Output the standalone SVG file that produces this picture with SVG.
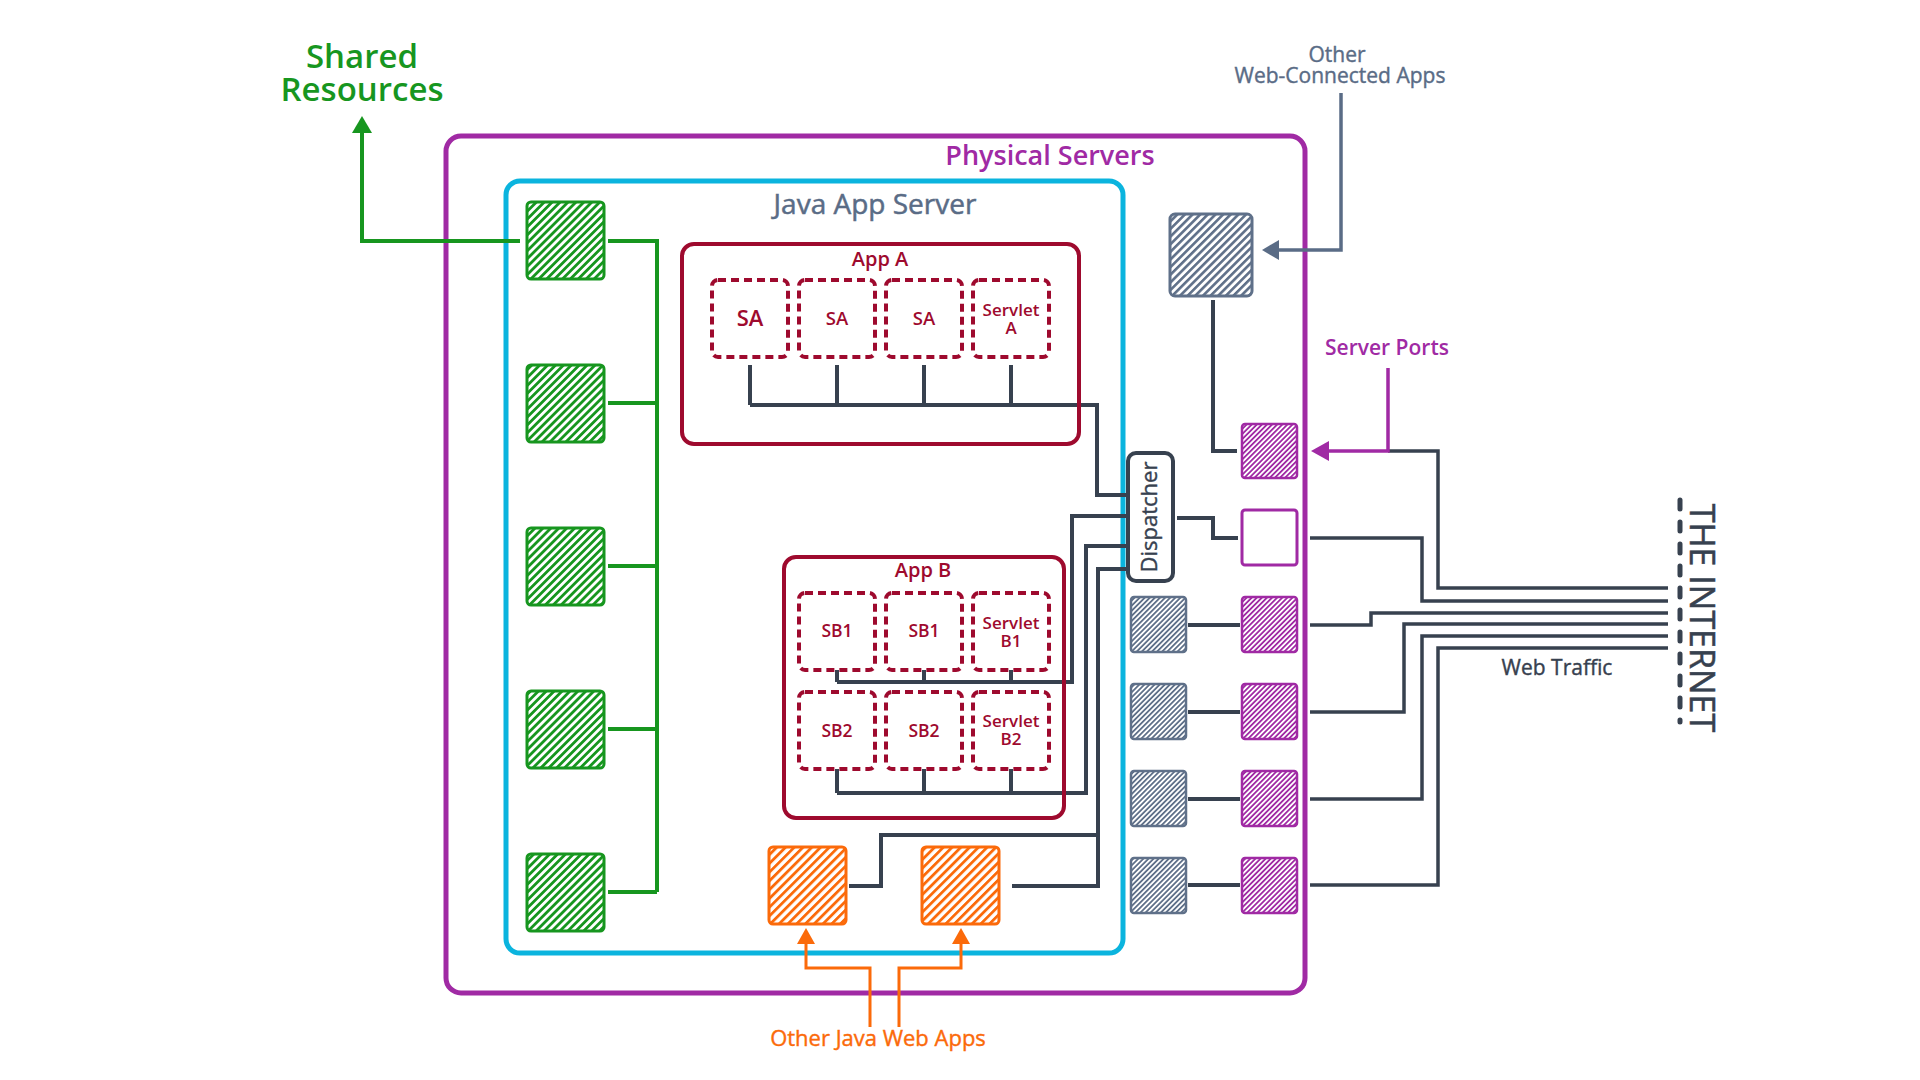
<svg xmlns="http://www.w3.org/2000/svg" width="1920" height="1080" viewBox="0 0 1920 1080">
<style>
text{font-family:"Open Sans","Liberation Sans",sans-serif;text-anchor:middle}
.b{font-weight:600}
.dark{fill:none;stroke:#37414f;stroke-width:4}
.thin{fill:none;stroke:#37414f;stroke-width:3.5}
.grn{fill:none;stroke:#17961f;stroke-width:4}
.red{fill:#9e0a2e;font-weight:600}
.dash{fill:#fff;stroke:#9e0a2e;stroke-width:4;stroke-dasharray:8 5}
.gsq{fill:url(#hG);stroke:#17961f;stroke-width:3}
.osq{fill:url(#hO);stroke:#fb6a0a;stroke-width:3}
.ssq{fill:url(#hS);stroke:#5f7089;stroke-width:2.5}
.psq{fill:url(#hP);stroke:#a02aa4;stroke-width:2.5}
</style>
<defs>
<pattern id="hG" patternUnits="userSpaceOnUse" width="5.6" height="10" patternTransform="rotate(45)"><rect width="5.6" height="10" fill="#fff"/><rect width="2.8" height="10" fill="#17961f"/></pattern>
<pattern id="hO" patternUnits="userSpaceOnUse" width="6.2" height="10" patternTransform="rotate(45)"><rect width="6.2" height="10" fill="#fff"/><rect width="2.8" height="10" fill="#fb6a0a"/></pattern>
<pattern id="hB" patternUnits="userSpaceOnUse" width="5.4" height="10" patternTransform="rotate(45)"><rect width="5.4" height="10" fill="#fff"/><rect width="2.6" height="10" fill="#5f7089"/></pattern>
<pattern id="hS" patternUnits="userSpaceOnUse" width="3.6" height="10" patternTransform="rotate(45)"><rect width="3.6" height="10" fill="#fff"/><rect width="1.8" height="10" fill="#5f7089"/></pattern>
<pattern id="hP" patternUnits="userSpaceOnUse" width="3.6" height="10" patternTransform="rotate(45)"><rect width="3.6" height="10" fill="#fff"/><rect width="1.8" height="10" fill="#a02aa4"/></pattern>
<marker id="aG" markerUnits="userSpaceOnUse" markerWidth="17" markerHeight="20" viewBox="0 0 17 20" refX="0" refY="10" orient="auto"><path d="M0,0 L17,10 L0,20 z" fill="#17961f"/></marker>
<marker id="aS" markerUnits="userSpaceOnUse" markerWidth="17" markerHeight="20" viewBox="0 0 17 20" refX="0" refY="10" orient="auto"><path d="M0,0 L17,10 L0,20 z" fill="#5a6c86"/></marker>
<marker id="aP" markerUnits="userSpaceOnUse" markerWidth="18" markerHeight="20" viewBox="0 0 18 20" refX="0" refY="10" orient="auto"><path d="M0,0 L18,10 L0,20 z" fill="#a02aa4"/></marker>
<marker id="aO" markerUnits="userSpaceOnUse" markerWidth="16" markerHeight="18" viewBox="0 0 16 18" refX="0" refY="9" orient="auto"><path d="M0,0 L16,9 L0,18 z" fill="#fb6a0a"/></marker>
</defs>
<rect width="1920" height="1080" fill="#fff"/>

<g id="physical-servers">
<rect x="446" y="136" width="859" height="857" rx="15" fill="none" stroke="#a02aa4" stroke-width="5"/>
<text class="b" x="1050" y="165" font-size="27" fill="#a02aa4">Physical Servers</text>
</g>
<g id="java-app-server">
<rect x="506" y="181" width="617" height="772" rx="14" fill="none" stroke="#0bb4de" stroke-width="5"/>
<text x="875" y="214" font-size="28" fill="#5a6c86" stroke="#5a6c86" stroke-width="0.5">Java App Server</text>
</g>

<g id="connectors">
<path class="grn" d="M608,241 H657 V892 M608,403 H657 M608,566 H657 M608,729 H657 M608,892 H657"/>
<path class="grn" d="M520,241 H362 V133" marker-end="url(#aG)"/>
<path class="dark" d="M750,365 V405 M837,365 V405 M924,365 V405 M1011,365 V405 M750,405 H1097 V495 H1128"/>
<path class="dark" d="M837,670 V682 M924,670 V682 M1011,670 V682 M837,682 H1072 V516 H1128"/>
<path class="dark" d="M837,769 V793 M924,769 V793 M1011,769 V793 M837,793 H1086 V546 H1128"/>
<path class="dark" d="M849,886 H881 V835 H1098 M1012,886 H1098 V569 H1128"/>
<path class="dark" d="M1177,518 H1213 V538 H1238"/>
<path class="dark" d="M1213,300 V451 H1237"/>
<path class="dark" d="M1188,625 H1240 M1188,712 H1240 M1188,799 H1240 M1188,885 H1240"/>
<path class="thin" d="M1388,451 H1438 V588 H1668"/>
<path class="thin" d="M1310,538 H1422 V601 H1668"/>
<path class="thin" d="M1310,625 H1371 V613 H1668"/>
<path class="thin" d="M1310,712 H1404 V624 H1668"/>
<path class="thin" d="M1310,799 H1422 V636 H1668"/>
<path class="thin" d="M1310,885 H1438 V648 H1668"/>
<path d="M1341,93 V250 H1279" fill="none" stroke="#5a6c86" stroke-width="3.5" marker-end="url(#aS)"/>
<path d="M1388,368 V451 H1329" fill="none" stroke="#a02aa4" stroke-width="3.5" marker-end="url(#aP)"/>
<path d="M870,1027 V968 H806 V944" fill="none" stroke="#fb6a0a" stroke-width="3" marker-end="url(#aO)"/>
<path d="M899,1027 V968 H961 V944" fill="none" stroke="#fb6a0a" stroke-width="3" marker-end="url(#aO)"/>
<path d="M1680,500 V722" fill="none" stroke="#37414f" stroke-width="5" stroke-dasharray="9 13" stroke-linecap="round"/>
</g>

<g id="shared-resources">
<text class="b" x="362" y="68" font-size="33" fill="#17961f">Shared</text>
<text class="b" x="362" y="101" font-size="33" fill="#17961f">Resources</text>
<rect class="gsq" x="527" y="202" width="77" height="77" rx="4"/>
<rect class="gsq" x="527" y="365" width="77" height="77" rx="4"/>
<rect class="gsq" x="527" y="528" width="77" height="77" rx="4"/>
<rect class="gsq" x="527" y="691" width="77" height="77" rx="4"/>
<rect class="gsq" x="527" y="854" width="77" height="77" rx="4"/>
</g>

<g id="app-a">
<rect x="682" y="244" width="397" height="200" rx="12" fill="none" stroke="#9e0a2e" stroke-width="4"/>
<text class="red" x="880" y="266" font-size="20">App A</text>
<rect class="dash" x="712" y="280" width="76" height="77" rx="6"/>
<rect class="dash" x="799" y="280" width="76" height="77" rx="6"/>
<rect class="dash" x="886" y="280" width="76" height="77" rx="6"/>
<rect class="dash" x="973" y="280" width="76" height="77" rx="6"/>
<text class="red" x="750" y="326" font-size="22">SA</text>
<text class="red" x="837" y="325" font-size="18.5">SA</text>
<text class="red" x="924" y="325" font-size="18.5">SA</text>
<text class="red" x="1011" y="316" font-size="17">Servlet</text>
<text class="red" x="1011" y="334" font-size="17">A</text>
</g>

<g id="app-b">
<rect x="784" y="557" width="280" height="261" rx="12" fill="none" stroke="#9e0a2e" stroke-width="4"/>
<text class="red" x="923" y="577" font-size="20">App B</text>
<rect class="dash" x="799" y="593" width="76" height="77" rx="6"/>
<rect class="dash" x="886" y="593" width="76" height="77" rx="6"/>
<rect class="dash" x="973" y="593" width="76" height="77" rx="6"/>
<rect class="dash" x="799" y="692" width="76" height="77" rx="6"/>
<rect class="dash" x="886" y="692" width="76" height="77" rx="6"/>
<rect class="dash" x="973" y="692" width="76" height="77" rx="6"/>
<text class="red" x="837" y="637" font-size="17.5">SB1</text>
<text class="red" x="924" y="637" font-size="17.5">SB1</text>
<text class="red" x="1011" y="629" font-size="17">Servlet</text>
<text class="red" x="1011" y="647" font-size="17">B1</text>
<text class="red" x="837" y="737" font-size="17.5">SB2</text>
<text class="red" x="924" y="737" font-size="17.5">SB2</text>
<text class="red" x="1011" y="727" font-size="17">Servlet</text>
<text class="red" x="1011" y="745" font-size="17">B2</text>
</g>

<g id="other-java-web-apps">
<rect class="osq" x="769" y="847" width="77" height="77" rx="4"/>
<rect class="osq" x="922" y="847" width="77" height="77" rx="4"/>
<text x="878" y="1046" font-size="22" fill="#fb6a0a" stroke="#fb6a0a" stroke-width="0.4">Other Java Web Apps</text>
</g>

<g id="dispatcher">
<rect x="1128" y="453" width="45" height="128" rx="8" fill="#fff" stroke="#37414f" stroke-width="4"/>
<text transform="translate(1157,517) rotate(-90)" font-size="22" fill="#37414f" stroke="#37414f" stroke-width="0.4">Dispatcher</text>
</g>

<g id="other-web-connected-apps">
<text x="1337" y="62" font-size="21" fill="#5a6c86" stroke="#5a6c86" stroke-width="0.4">Other</text>
<text x="1340" y="83" font-size="21" fill="#5a6c86" stroke="#5a6c86" stroke-width="0.4">Web-Connected Apps</text>
<rect x="1170" y="214" width="82" height="82" rx="5" fill="url(#hB)" stroke="#5f7089" stroke-width="3"/>
</g>

<g id="app-instances">
<rect class="ssq" x="1131" y="597" width="55" height="55" rx="3"/>
<rect class="ssq" x="1131" y="684" width="55" height="55" rx="3"/>
<rect class="ssq" x="1131" y="771" width="55" height="55" rx="3"/>
<rect class="ssq" x="1131" y="858" width="55" height="55" rx="3"/>
</g>

<g id="server-ports">
<text class="b" x="1387" y="355" font-size="21" fill="#a02aa4">Server Ports</text>
<rect class="psq" x="1242" y="424" width="55" height="54" rx="3"/>
<rect x="1242" y="510" width="55" height="55" rx="3" fill="#fff" stroke="#a02aa4" stroke-width="3"/>
<rect class="psq" x="1242" y="597" width="55" height="55" rx="3"/>
<rect class="psq" x="1242" y="684" width="55" height="55" rx="3"/>
<rect class="psq" x="1242" y="771" width="55" height="55" rx="3"/>
<rect class="psq" x="1242" y="858" width="55" height="55" rx="3"/>
</g>

<g id="the-internet">
<text transform="translate(1690,618) rotate(90)" font-size="34" fill="#37414f" stroke="#37414f" stroke-width="0.5">THE INTERNET</text>
<text x="1557" y="675" font-size="21" fill="#37414f" stroke="#37414f" stroke-width="0.4">Web Traffic</text>
</g>
</svg>
